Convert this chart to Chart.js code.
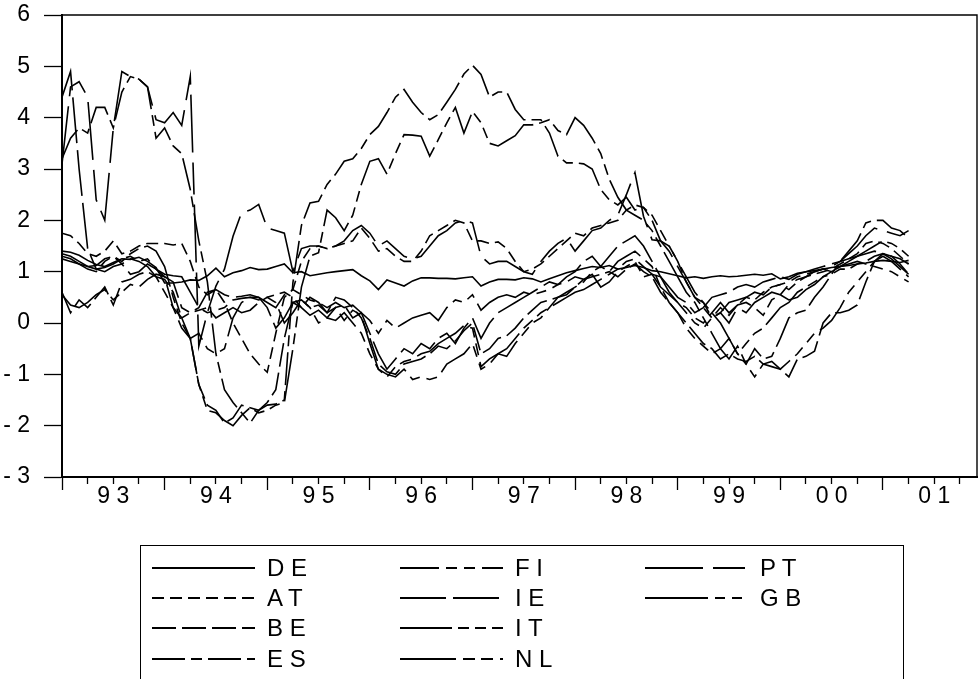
<!DOCTYPE html>
<html><head><meta charset="utf-8">
<script src="https://cdn.jsdelivr.net/npm/chart.js@4.4.1/dist/chart.umd.min.js"></script>
<style>
html,body{margin:0;padding:0;background:#fff;overflow:hidden;}
#wrap{position:relative;width:979px;height:679px;background:#fff;}
#c{position:absolute;left:0;top:0;}
#legend{position:absolute;left:140px;top:545px;width:764px;height:160px;border:1px solid #000;box-sizing:border-box;}
.item{position:absolute;height:30px;display:flex;align-items:center;font-family:'Liberation Sans',Arial,sans-serif;font-size:24px;color:#000;white-space:pre;}
.item svg{margin-right:12px;display:block;}
</style></head>
<body><div id="wrap"><canvas id="c" width="979" height="679"></canvas><div id="legend"></div></div>
<script>
// ---- data (monthly, 1993M01 .. 2001M04) ----
const months = [];
for (let y = 1993; y <= 2001; y++) for (let m = 1; m <= 12; m++) if (months.length < 100) months.push(y + 'M' + String(m).padStart(2,'0'));

const yearLabels = ['9 3','9 4','9 5','9 6','9 7','9 8','9 9','0 0','0 1'];
const yTickLabels = {'-3':'- 3','-2':'- 2','-1':'- 1','0':'0','1':'1','2':'2','3':'3','4':'4','5':'5','6':'6'};

const DE = [1.40,1.38,1.32,1.22,1.14,1.10,1.18,1.25,1.24,1.28,1.20,1.08,
 0.78,0.78,0.80,0.84,0.83,0.92,1.07,0.90,0.98,1.02,1.08,1.04,
 1.05,1.10,1.15,0.98,1.00,0.92,0.95,0.98,1.00,1.02,1.04,0.92,
 0.82,0.65,0.84,0.78,0.72,0.82,0.88,0.88,0.87,0.87,0.86,0.88,
 0.90,0.72,0.80,0.85,0.85,0.84,0.88,0.86,0.80,0.86,0.92,0.98,
 1.02,1.06,1.10,1.08,1.12,1.05,1.08,1.12,1.08,1.02,1.00,0.96,
 0.92,0.88,0.90,0.87,0.90,0.92,0.90,0.91,0.93,0.95,0.93,0.96,
 0.86,0.90,0.97,1.00,1.02,1.05,1.08,1.10,1.12,1.15,1.17,1.20,
 1.22,1.20,1.18,1.22];
const AT = [1.75,1.70,1.55,1.35,1.30,1.40,1.60,1.35,1.40,1.50,1.55,1.55,
 1.55,1.52,1.55,1.20,0.70,0.55,0.65,0.40,0.00,-0.30,-0.60,-0.80,
 -0.96,-0.20,0.50,0.65,1.20,1.45,1.50,1.45,1.50,1.55,1.60,1.85,
 1.65,1.40,1.45,1.30,1.20,1.20,1.40,1.70,1.80,1.90,2.00,1.95,
 1.60,1.60,1.55,1.58,1.45,1.20,1.00,1.05,1.15,1.30,1.45,1.60,
 1.75,1.70,1.85,1.90,1.95,2.00,2.20,2.30,2.25,2.10,1.80,1.50,
 1.20,0.80,0.50,0.30,0.10,0.30,0.15,0.35,0.50,0.45,0.60,0.70,
 0.75,0.65,0.80,0.90,0.95,1.00,1.05,1.15,1.25,1.35,1.55,1.60,
 1.55,1.45,1.30,1.15];
const BE = [0.60,0.20,0.45,0.30,0.50,0.70,0.35,0.80,0.85,0.95,1.00,0.90,
 0.85,0.60,0.10,-0.30,-1.20,-1.60,-1.70,-1.95,-1.85,-1.60,-1.65,-1.70,
 -1.55,-1.30,-0.30,0.40,0.45,0.30,0.35,0.20,0.50,0.45,0.30,0.10,
 -0.30,-0.80,-0.95,-1.00,-0.80,-0.75,-0.70,-0.60,-0.45,-0.50,-0.35,-0.15,
 0.00,-0.60,-0.50,-0.30,-0.25,-0.10,0.10,0.25,0.40,0.45,0.50,0.55,
 0.70,0.85,0.90,0.95,1.00,0.90,1.05,1.15,1.00,0.90,0.60,0.40,
 0.20,0.00,-0.20,-0.40,-0.50,-0.70,-0.60,-0.70,-0.75,-0.65,-0.80,-0.85,
 -0.90,-1.05,-0.70,-0.65,-0.55,0.00,0.20,0.20,0.25,0.35,0.80,1.20,
 1.35,1.30,1.15,0.95];
const ES = [3.20,3.60,3.80,3.70,4.20,4.20,3.80,4.50,4.80,4.75,4.60,3.60,
 3.80,3.45,3.30,2.60,1.60,0.80,-0.60,-1.30,-1.55,-1.75,-1.95,-1.70,
 -1.60,-1.58,-1.50,0.78,1.90,2.34,2.37,2.70,2.90,3.15,3.20,3.40,
 3.67,3.83,4.10,4.40,4.55,4.30,4.10,3.96,4.06,4.30,4.55,4.85,
 5.02,4.84,4.40,4.50,4.50,4.16,3.96,3.96,3.96,3.70,3.25,3.12,
 3.12,3.10,3.00,2.60,2.40,2.30,2.45,2.20,2.25,2.00,1.60,1.50,
 1.20,0.90,0.60,0.40,0.20,0.00,-0.30,-0.60,-0.80,-0.50,-0.70,-0.65,
 -0.30,0.10,0.20,0.25,0.50,0.70,0.95,1.20,1.40,1.60,1.95,2.00,
 2.00,1.85,1.80,1.65];
const FI = [1.30,1.25,1.15,1.05,1.00,1.20,1.30,1.15,1.25,1.20,1.10,0.90,
 0.60,0.30,-0.10,-0.30,-0.20,-0.50,-0.60,-0.50,0.10,0.40,0.50,0.45,
 0.50,0.40,0.00,0.20,0.45,0.30,0.00,0.10,0.05,0.20,0.00,-0.20,
 -0.60,-0.90,-1.00,-1.05,-0.90,-1.10,-1.05,-1.10,-1.05,-0.80,-0.70,-0.60,
 -0.40,-0.90,-0.80,-0.60,-0.65,-0.40,-0.20,0.00,0.10,0.30,0.50,0.60,
 0.70,0.80,1.00,1.10,1.00,1.20,1.30,1.40,1.25,1.10,0.70,0.40,
 0.20,-0.10,-0.30,-0.45,-0.60,-0.50,-0.70,-0.45,-0.80,-1.05,-0.80,-0.75,
 -0.90,-0.75,-0.60,-0.40,-0.20,-0.10,0.05,0.30,0.60,0.80,1.00,1.20,
 1.30,1.20,1.05,0.90];
const IE = [4.40,4.90,3.00,1.45,1.05,1.00,1.10,1.15,0.95,1.00,1.15,1.05,
 0.90,0.30,0.10,0.20,0.30,0.60,0.65,0.55,0.50,0.52,0.55,0.50,
 0.30,-0.10,0.10,0.40,0.30,0.50,0.40,0.20,0.30,0.35,0.10,0.20,
 -0.20,-0.60,-0.90,-0.70,-0.50,-0.60,-0.40,-0.50,-0.30,-0.20,-0.40,-0.10,
 0.10,-0.30,0.00,0.20,0.30,0.40,0.50,0.60,0.70,0.80,0.75,0.90,
 1.00,1.20,1.30,1.10,1.30,1.50,1.60,1.70,1.50,1.20,0.90,0.70,
 0.50,0.40,0.20,0.30,0.50,0.55,0.60,0.70,0.75,0.70,0.80,0.85,
 0.90,0.85,0.95,1.00,1.05,1.10,1.15,1.20,1.25,1.30,1.35,1.40,
 1.35,1.25,1.10,0.95];
const IT = [1.25,1.20,1.15,1.10,1.12,1.25,1.30,1.20,1.35,1.45,1.50,1.40,
 1.10,0.50,0.00,-0.30,-1.20,-1.70,-1.75,-1.90,-2.00,-1.80,-1.65,-1.75,
 -1.70,-1.60,-1.55,-0.50,0.70,1.30,1.37,2.20,2.05,1.80,2.10,2.70,
 3.15,3.20,2.90,3.30,3.67,3.66,3.64,3.25,3.57,3.90,4.20,3.70,
 4.12,3.90,3.50,3.45,3.55,3.65,3.86,3.86,3.90,3.96,3.75,3.67,
 4.00,3.85,3.60,3.30,2.80,2.45,2.20,2.10,2.00,1.80,1.50,1.20,
 0.90,0.60,0.40,0.10,-0.20,-0.50,-0.30,-0.60,-0.40,-0.20,-0.10,0.10,
 0.30,0.40,0.60,0.70,0.80,0.90,1.00,1.10,1.20,1.30,1.40,1.50,
 1.60,1.55,1.45,1.30];
const NL = [0.55,0.35,0.30,0.40,0.55,0.65,0.45,0.60,0.75,0.70,0.85,0.95,
 0.90,0.80,0.30,0.20,0.25,0.30,0.10,0.20,0.30,0.20,0.25,0.40,
 0.50,0.55,0.60,0.50,0.30,0.15,0.25,0.10,0.30,0.05,0.25,0.15,
 -0.40,-0.90,-1.05,-0.85,-0.75,-0.70,-0.60,-0.55,-0.40,-0.30,-0.20,-0.05,
 -0.10,-0.85,-0.70,-0.60,-0.50,-0.30,-0.10,0.05,0.20,0.30,0.40,0.50,
 0.60,0.65,0.75,0.85,0.95,1.05,1.20,1.25,1.10,0.95,0.70,0.55,
 0.40,0.30,0.10,0.00,0.20,0.40,0.20,0.35,0.40,0.30,0.15,0.45,
 0.55,0.45,0.50,0.65,0.75,0.90,0.95,1.05,1.05,1.15,1.20,1.30,
 1.35,1.30,1.25,1.15];
const PT = [3.10,4.60,4.70,4.40,2.40,2.00,3.80,4.90,4.80,4.75,4.60,3.96,
 3.90,4.10,3.85,4.80,-0.45,0.20,0.72,1.05,1.69,2.15,2.20,2.31,
 1.85,1.80,1.75,1.00,1.45,1.50,1.50,1.45,1.50,1.60,1.80,1.90,
 1.75,1.50,1.60,1.45,1.30,1.25,1.30,1.50,1.70,1.80,1.95,2.00,
 1.95,1.30,1.15,1.20,1.20,1.10,1.00,0.95,1.20,1.40,1.55,1.65,
 1.40,1.60,1.80,1.85,2.00,2.10,2.50,2.93,2.08,1.62,1.60,1.40,
 1.10,0.80,0.50,0.40,0.10,0.20,0.00,0.30,0.20,0.40,0.50,0.60,
 0.55,0.75,0.85,0.90,1.00,1.05,1.10,1.20,1.35,1.50,1.70,1.85,
 1.80,1.75,1.70,1.80];
const GB = [1.35,1.30,1.20,1.10,1.05,1.08,1.15,1.25,1.30,1.20,1.25,1.05,
 0.95,0.92,0.90,0.60,0.30,0.20,0.25,0.30,0.45,0.48,0.50,0.50,
 0.40,0.30,0.55,0.65,0.55,0.45,0.40,0.30,0.40,0.30,0.35,0.20,
 0.05,-0.20,0.05,-0.10,0.00,0.10,0.15,0.20,0.05,0.30,0.45,0.40,
 0.55,0.25,0.40,0.50,0.55,0.50,0.60,0.55,0.60,0.65,0.75,0.80,
 0.90,0.85,0.95,0.70,0.80,1.00,1.10,1.20,0.90,0.95,0.90,0.60,
 0.40,0.20,0.00,-0.10,0.10,0.20,0.40,0.45,0.50,0.60,0.55,0.70,
 0.75,0.80,0.90,0.95,1.00,1.05,1.00,1.10,1.15,1.20,1.15,1.10,
 1.05,1.00,0.90,0.80];

const seriesNames = ['DE','AT','BE','ES','FI','IE','IT','NL','PT','GB'];
const seriesValues = [DE, AT, BE, ES, FI, IE, IT, NL, PT, GB];

// ---- styles ----
const dashStyles = {DE:[], AT:[12,6], BE:[24,6], ES:[33,6,11,6], FI:[39,7,11,7,11,7],
  IE:[46,7], IT:[52,6,11,6,11,6], NL:[56,7,12,6,12,7], PT:[58,10,32,10], GB:[63,7,10,7,10,7]};
const legendLabels = {DE:'D E',AT:'A T',BE:'B E',ES:'E S',FI:'F I',IE:'I E',IT:'I T',NL:'N L',PT:'P T',GB:'G B'};
const FONT = "'Liberation Sans', Arial, sans-serif";
const tickVals = [];
for (let v = 0; v <= 105; v += 3) tickVals.push(v);

const framePlugin = {
  id: 'frame',
  afterDraw(chart) {
    const {ctx, chartArea: a} = chart;
    ctx.save();
    ctx.strokeStyle = '#000';
    ctx.lineWidth = 1.4;
    ctx.beginPath();
    ctx.moveTo(a.left, a.top); ctx.lineTo(a.right, a.top); ctx.lineTo(a.right, a.bottom);
    ctx.stroke();
    ctx.restore();
  }
};

new Chart(document.getElementById('c').getContext('2d'), {
  type: 'line',
  data: {
    datasets: seriesNames.map((n, k) => ({
      label: n,
      data: seriesValues[k].map((v, i) => ({x: i, y: v})),
      borderColor: '#000', borderWidth: 1.6, borderDash: dashStyles[n],
      borderCapStyle: 'butt', borderJoinStyle: 'miter',
      pointRadius: 0, tension: 0, fill: false
    }))
  },
  options: {
    responsive: false, animation: false, devicePixelRatio: 1,
    layout: {padding: {top: 15, right: 2, left: 0, bottom: 0}},
    plugins: {legend: {display: false}, tooltip: {enabled: false}},
    scales: {
      x: {
        type: 'linear', min: 0, max: 107,
        afterBuildTicks: s => { s.ticks = tickVals.map(v => ({value: v})); },
        afterFit: s => { s.height = 202; s.paddingLeft = 0; s.paddingRight = 0; },
        ticks: {autoSkip: false, maxRotation: 0, minRotation: 0, padding: -7, color: '#000',
          font: {family: FONT, size: 23},
          callback: v => (v % 12 === 6) ? yearLabels[(v - 6) / 12] : ''},
        grid: {display: true, drawOnChartArea: false, drawTicks: true, tickLength: 13,
          tickColor: '#000', tickWidth: 1.3,
          tickBorderDash: c => (c.tick && c.tick.value % 12 === 0) ? [] : [6, 40]},
        border: {display: true, color: '#000', width: 2}
      },
      y: {
        min: -3, max: 6,
        afterFit: s => { s.width = 62; s.paddingTop = 0; s.paddingBottom = 0; },
        ticks: {stepSize: 1, padding: 14, color: '#000', font: {family: FONT, size: 23},
          callback: v => yTickLabels[String(v)] ?? String(v)},
        grid: {drawOnChartArea: false, drawTicks: true, tickLength: 18, tickColor: '#000', tickWidth: 1.3},
        border: {display: true, color: '#000', width: 2}
      }
    }
  },
  plugins: [framePlugin]
});

// ---- legend (HTML) ----
const legendCols = [['DE','AT','BE','ES'], ['FI','IE','IT','NL'], ['PT','GB']];
const colX = [11, 259, 504];
const rowTop = [7, 37, 67, 98];
const leg = document.getElementById('legend');
legendCols.forEach((col, ci) => col.forEach((n, ri) => {
  const d = document.createElement('div');
  d.className = 'item';
  d.style.left = colX[ci] + 'px';
  d.style.top = rowTop[ri] + 'px';
  const dash = dashStyles[n].length ? dashStyles[n].join(' ') : 'none';
  d.innerHTML = '<svg width="103" height="6"><line x1="0" y1="3" x2="103" y2="3" stroke="#000" stroke-width="2.2" stroke-dasharray="' + dash + '"/></svg><span>' + legendLabels[n] + '</span>';
  leg.appendChild(d);
}));
</script>
</body></html>
